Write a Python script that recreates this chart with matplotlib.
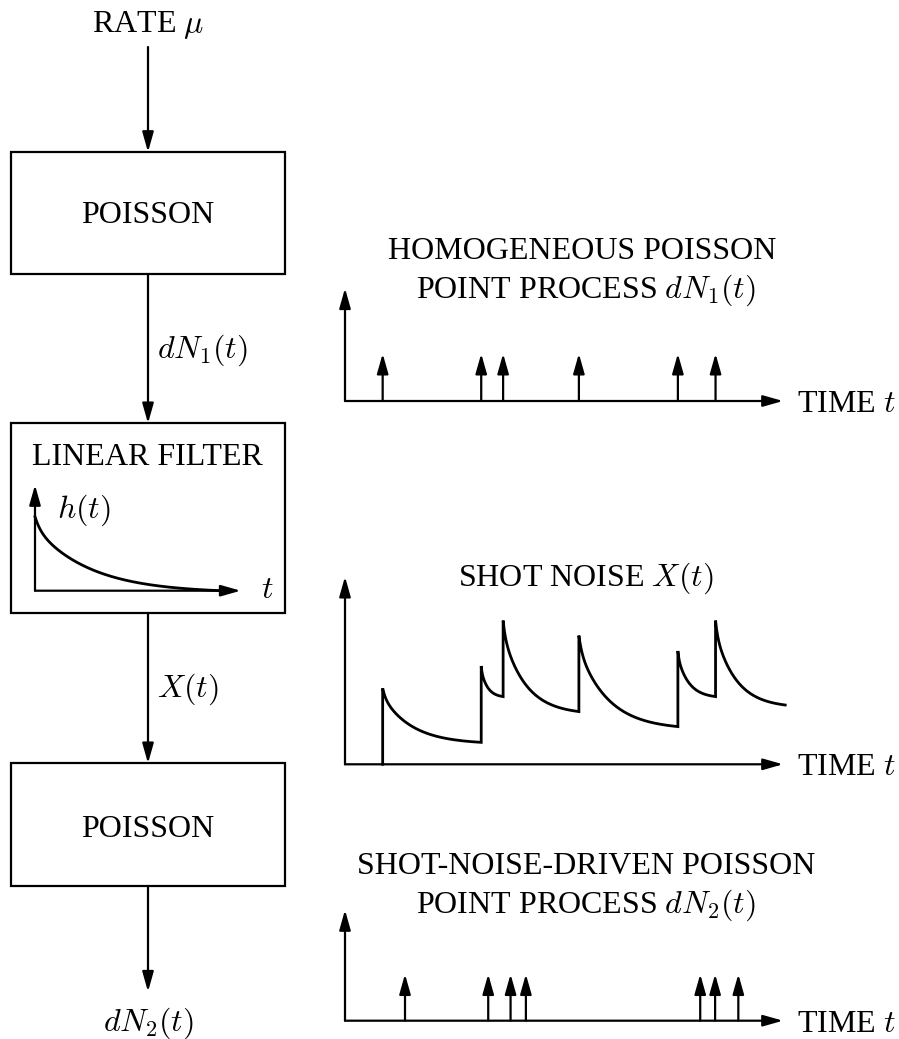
import numpy as np
import matplotlib.pyplot as plt
from matplotlib.patches import Rectangle

plt.rcParams['font.family'] = ['Liberation Serif', 'DejaVu Serif']
plt.rcParams['mathtext.fontset'] = 'cm'

# figure size in pixels, the diagram is laid out in these units
W, H = 899, 1039

# event times of the homogeneous Poisson process dN1(t)
events_1 = [0.86, 3.11, 3.61, 5.34, 7.60, 8.46]
# shot noise X(t): value right after each event and right before the next one
shot_peaks = [4.05, 5.24, 7.66, 6.86, 6.04, 7.66]
shot_floors = [1.17, 3.61, 2.81, 2.01, 3.61, 3.16]
shot_end = 10.05
# event times of the shot-noise-driven Poisson process dN2(t)
events_2 = [1.37, 3.27, 3.78, 4.13, 8.11, 8.45, 8.98]
# impulse response sketched inside the filter block
h_peak = 7.0
h_span = 9.0

FS = 23
LW = 1.6
CURVE_LW = 2.0
ARROW = dict(arrowstyle='-|>,head_length=1.2,head_width=0.34', mutation_scale=10,
             lw=LW, color='black', shrinkA=0, shrinkB=0)


def decay(s, k=3.3, w=0.15, fast=0.03):
    # pulse shape falling from 1 to 0 over s in [0, 1]
    g = w * np.exp(-s / fast) + (1 - w) * np.exp(-k * s)
    g1 = w * np.exp(-1 / fast) + (1 - w) * np.exp(-k)
    return (g - g1) / (1 - g1)


def arrow(a, start, end, coords='data'):
    a.annotate('', xy=end, xytext=start, xycoords=coords, textcoords=coords,
               arrowprops=ARROW, annotation_clip=False)


def panel(x0, y0, x1, y1):
    # axes whose origin is at (x0, y0) and whose arrow tips reach x1 / y1 (pixels)
    a = fig.add_axes([x0 / W, 1 - y0 / H, (x1 - x0) / W, (y0 - y1) / H])
    a.set_xlim(0, 10)
    a.set_ylim(0, 10)
    a.axis('off')
    arrow(a, (0, 0), (1, 0), 'axes fraction')
    arrow(a, (0, 0), (0, 1), 'axes fraction')
    return a


fig = plt.figure(figsize=(W / 100, H / 100), dpi=100)
ax = fig.add_axes([0, 0, 1, 1])
ax.set_xlim(0, W)
ax.set_ylim(H, 0)
ax.axis('off')

# ---- block diagram on the left ----
cx = 148
for top, bottom in [(152, 274), (423.3, 613.3), (763.3, 886)]:
    ax.add_patch(Rectangle((11, top), 274, bottom - top, fill=False, lw=LW, ec='black'))

arrow(ax, (cx, 47), (cx, 152))
arrow(ax, (cx, 274), (cx, 423.3))
arrow(ax, (cx, 613.3), (cx, 763.3))
arrow(ax, (cx, 886), (cx, 991.7))

ax.text(cx, 32, 'RATE $\\mu$', fontsize=FS, ha='center', va='baseline')
ax.text(cx, 223.3, 'POISSON', fontsize=FS, ha='center', va='baseline')
ax.text(147.5, 465, 'LINEAR FILTER', fontsize=FS, ha='center', va='baseline')
ax.text(cx, 836.7, 'POISSON', fontsize=FS, ha='center', va='baseline')
ax.text(157, 350, '$dN_1(t)$', fontsize=FS, ha='left', va='center')
ax.text(157, 689, '$X(t)$', fontsize=FS, ha='left', va='center')
ax.text(cx, 1023, '$dN_2(t)$', fontsize=FS, ha='center', va='center')
ax.text(57, 510, '$h(t)$', fontsize=FS, ha='left', va='center')
ax.text(267, 591, '$t$', fontsize=FS, ha='center', va='center')

# impulse response h(t)
hx = panel(35, 590.7, 240.7, 485)
s = np.linspace(0, 1, 300)
hx.plot(h_span * s, h_peak * decay(s), color='black', lw=CURVE_LW, clip_on=False)

# ---- homogeneous Poisson point process ----
p1 = panel(345, 401, 783, 288.3)
for t in events_1:
    arrow(p1, (t, 0), (t, 4.2))

# ---- shot noise ----
p2 = panel(345, 764.3, 783, 576.7)
xs, ys = [events_1[0]], [0.0]
ends = events_1[1:] + [shot_end]
for t0, t1, top, low in zip(events_1, ends, shot_peaks, shot_floors):
    s = np.linspace(0, 1, 200)
    xs.extend(t0 + (t1 - t0) * s)
    ys.extend(low + (top - low) * decay(s))
p2.plot(xs, ys, color='black', lw=CURVE_LW, clip_on=False, solid_joinstyle='miter')

# ---- shot-noise-driven Poisson point process ----
p3 = panel(345, 1020.7, 783, 910)
for t in events_2:
    arrow(p3, (t, 0), (t, 4.2))

# titles and time labels of the right column
titles = [
    ('HOMOGENEOUS POISSON', 582, 259),
    ('POINT PROCESS $dN_1(t)$', 586, 297.5),
    ('SHOT NOISE $X(t)$', 585.5, 586),
    ('SHOT-NOISE-DRIVEN POISSON', 585.8, 874),
    ('POINT PROCESS $dN_2(t)$', 585.8, 912.7),
]
for label, x, y in titles:
    ax.text(x, y, label, fontsize=FS, ha='center', va='baseline')
for y in [401, 764.3, 1020.7]:
    ax.text(797, y + 11, 'TIME $t$', fontsize=FS, ha='left', va='baseline')

fig.savefig('out.png', dpi=100)
